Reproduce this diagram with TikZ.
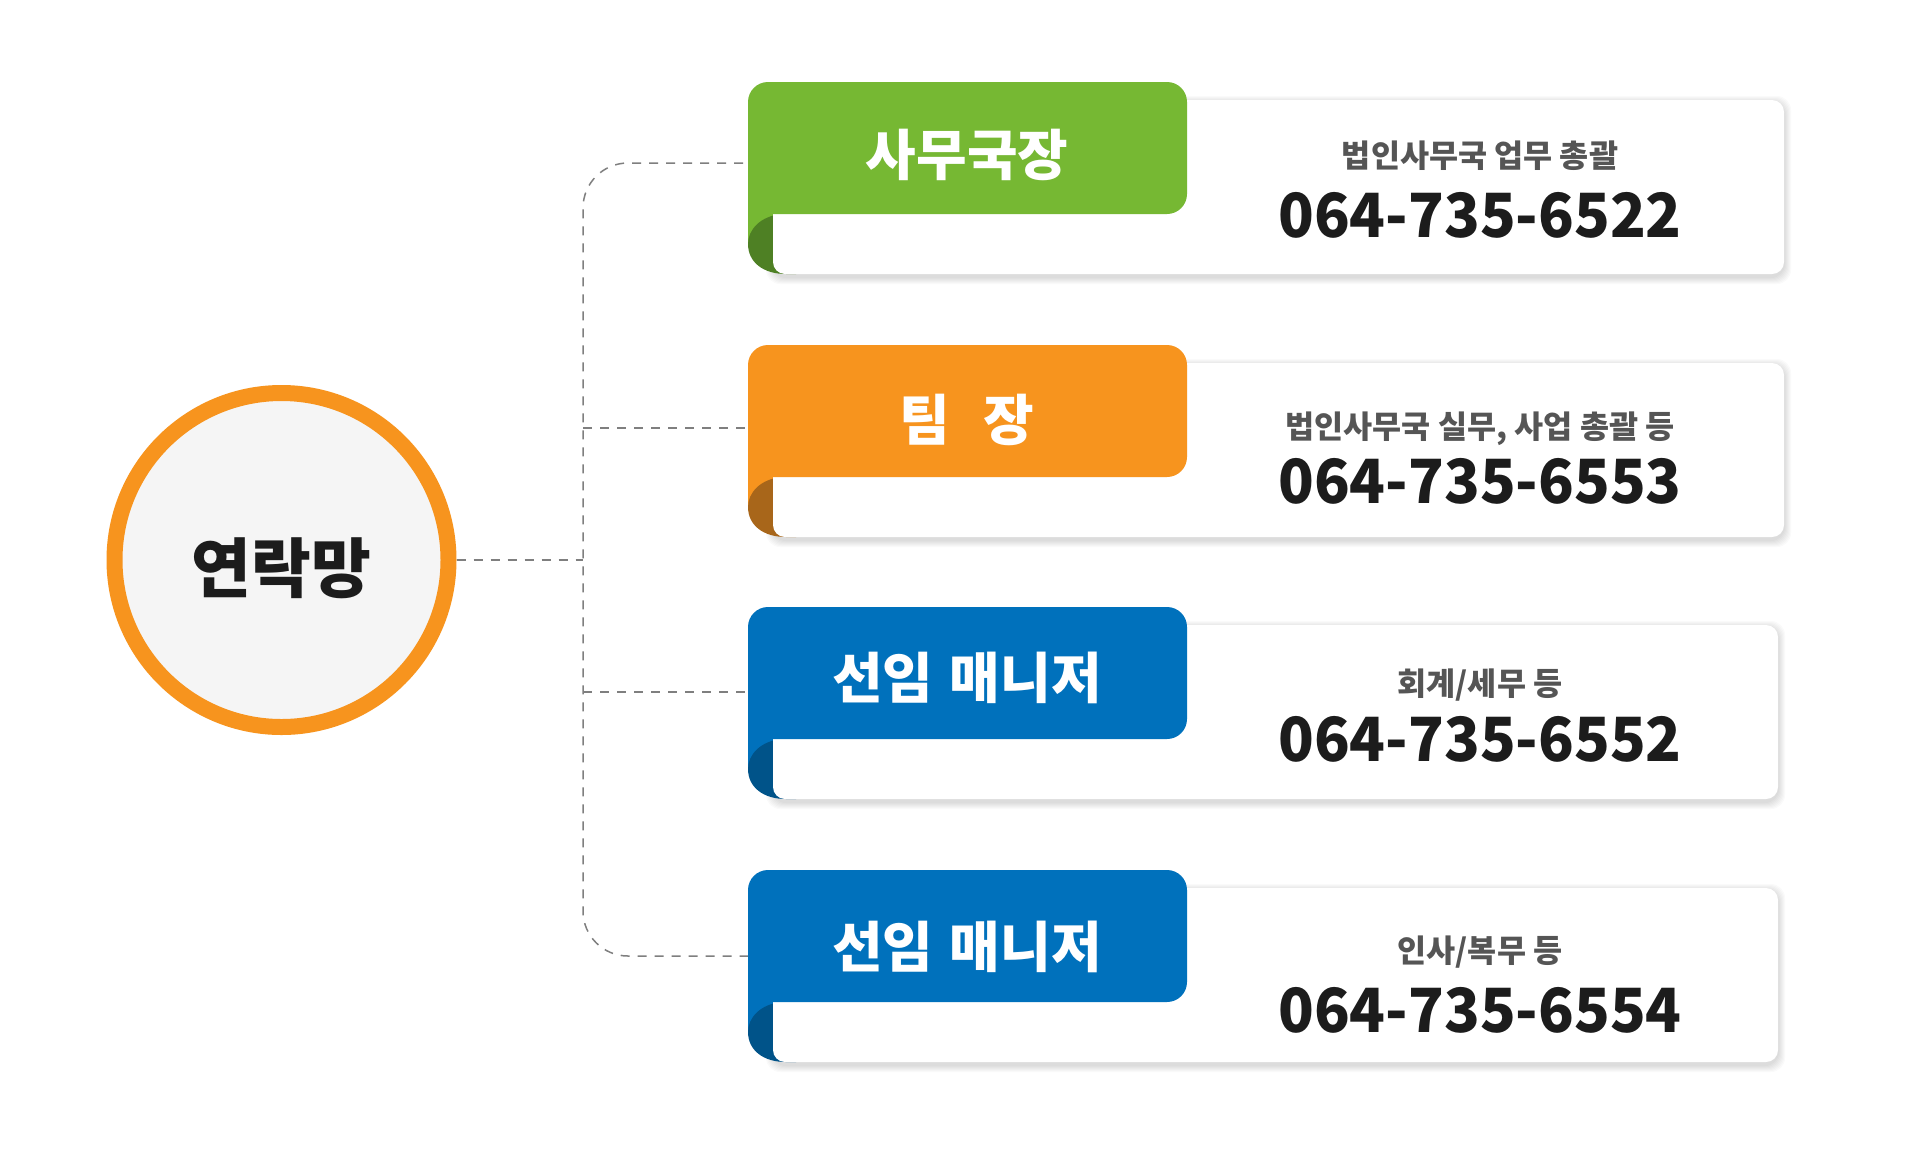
\documentclass[tikz,border=0pt]{standalone}
\usepackage{fontspec}
\setmainfont{Noto Sans CJK KR}
\definecolor{gL}{HTML}{76B833}
\definecolor{gD}{HTML}{4E8024}
\definecolor{oL}{HTML}{F7941E}
\definecolor{oD}{HTML}{A8661A}
\definecolor{bL}{HTML}{0071BC}
\definecolor{bD}{HTML}{005389}
\definecolor{hubfill}{HTML}{F5F5F5}
\definecolor{ink}{HTML}{1C1C1C}
\definecolor{descgray}{HTML}{555555}
\definecolor{dashgray}{HTML}{7F7F7F}
\newcommand{\drawcard}[5]{%
  % #1 top of tab, #2 right edge of card, #3 light colour, #4 dark colour, #5 id
  \foreach \k in {1,...,7}{
    \fill[black, opacity=0.018, rounded corners=7pt] (773-\k,#1+18-\k+3) rectangle (#2+\k,#1+192+\k+3);
  }
  \fill[#3] (748,#1+100) rectangle (782,#1+160);
  \fill[#4] (782,#1+132) .. controls (760,#1+134) and (748,#1+148) .. (748,#1+162)
            .. controls (748,#1+180) and (763,#1+192) .. (786,#1+192) -- (796,#1+192) -- (796,#1+132) -- cycle;
  \path[fill=white, rounded corners=6pt] (773,#1+18) rectangle (#2,#1+192);
  \node[tabbox, fill=#3] (tab#5) at (967.5,#1+66) {};
}
\begin{document}
\begin{tikzpicture}[x=0.5pt,y=-0.5pt,
  conn/.style={draw=dashgray, line width=0.75pt, dash pattern=on 4.5pt off 4pt},
  tabbox/.style={rectangle, rounded corners=10pt, minimum width=219.5pt, minimum height=66pt, inner sep=0pt},
  tablabel/.style={anchor=base, text=white, font=\fontsize{27.5}{27.5}\selectfont\bfseries, inner sep=0pt},
  desc/.style={anchor=base, text=descgray, font=\fontsize{15.8}{15.8}\selectfont\bfseries, inner sep=0pt},
  num/.style={anchor=base, text=ink, font=\fontsize{30.5}{30.5}\selectfont\bfseries, inner sep=0pt}]
\useasboundingbox[fill=white] (0,0) rectangle (1920,1157);

% connectors
\node[circle, draw=oL, line width=8pt, fill=hubfill, minimum size=167pt, inner sep=0pt] (hub) at (281.5,560) {};
\coordinate (j0) at (583,560);
\coordinate (b1) at (760,163);
\coordinate (b2) at (748,428);
\coordinate (b3) at (748,692);
\coordinate (b4) at (748,956);
\draw[conn, rounded corners=22.5pt] (b1) -- (583,163) -- (583,956) -- (b4);
\draw[conn] (583,428) -- (b2);
\draw[conn] (583,692) -- (b3);
\draw[conn] (hub.east) -- (j0);

\node[anchor=base, text=ink, font=\fontsize{32.5}{32.5}\selectfont\bfseries, inner sep=0pt] (hubtext) at (281.5,592) {연락망};

% cards
\drawcard{82}{1784}{gL}{gD}{1}
\drawcard{345}{1784}{oL}{oD}{2}
\drawcard{607}{1778}{bL}{bD}{3}
\drawcard{870}{1778}{bL}{bD}{4}

\node[tablabel] (lab1) at (967,175) {사무국장};
\node[tablabel] (lab2) at (967,440) {팀\hspace{0.6em}장};
\node[tablabel] (lab3) at (967,698) {선임\hspace{0.3em}매니저};
\node[tablabel] (lab4) at (967,967) {선임\hspace{0.3em}매니저};

\node[desc] (desc1) at (1480,167) {법인사무국 업무 총괄};
\node[desc] (desc2) at (1480,438) {법인사무국 실무, 사업 총괄 등};
\node[desc] (desc3) at (1480,695) {회계/세무 등};
\node[desc] (desc4) at (1480,962) {인사/복무 등};

\node[num] (num1) at (1480,237) {\scalebox{0.965}[1]{064-735-6522}};
\node[num] (num2) at (1480,503) {\scalebox{0.965}[1]{064-735-6553}};
\node[num] (num3) at (1480,761) {\scalebox{0.965}[1]{064-735-6552}};
\node[num] (num4) at (1480,1032) {\scalebox{0.965}[1]{064-735-6554}};
\end{tikzpicture}
\end{document}
